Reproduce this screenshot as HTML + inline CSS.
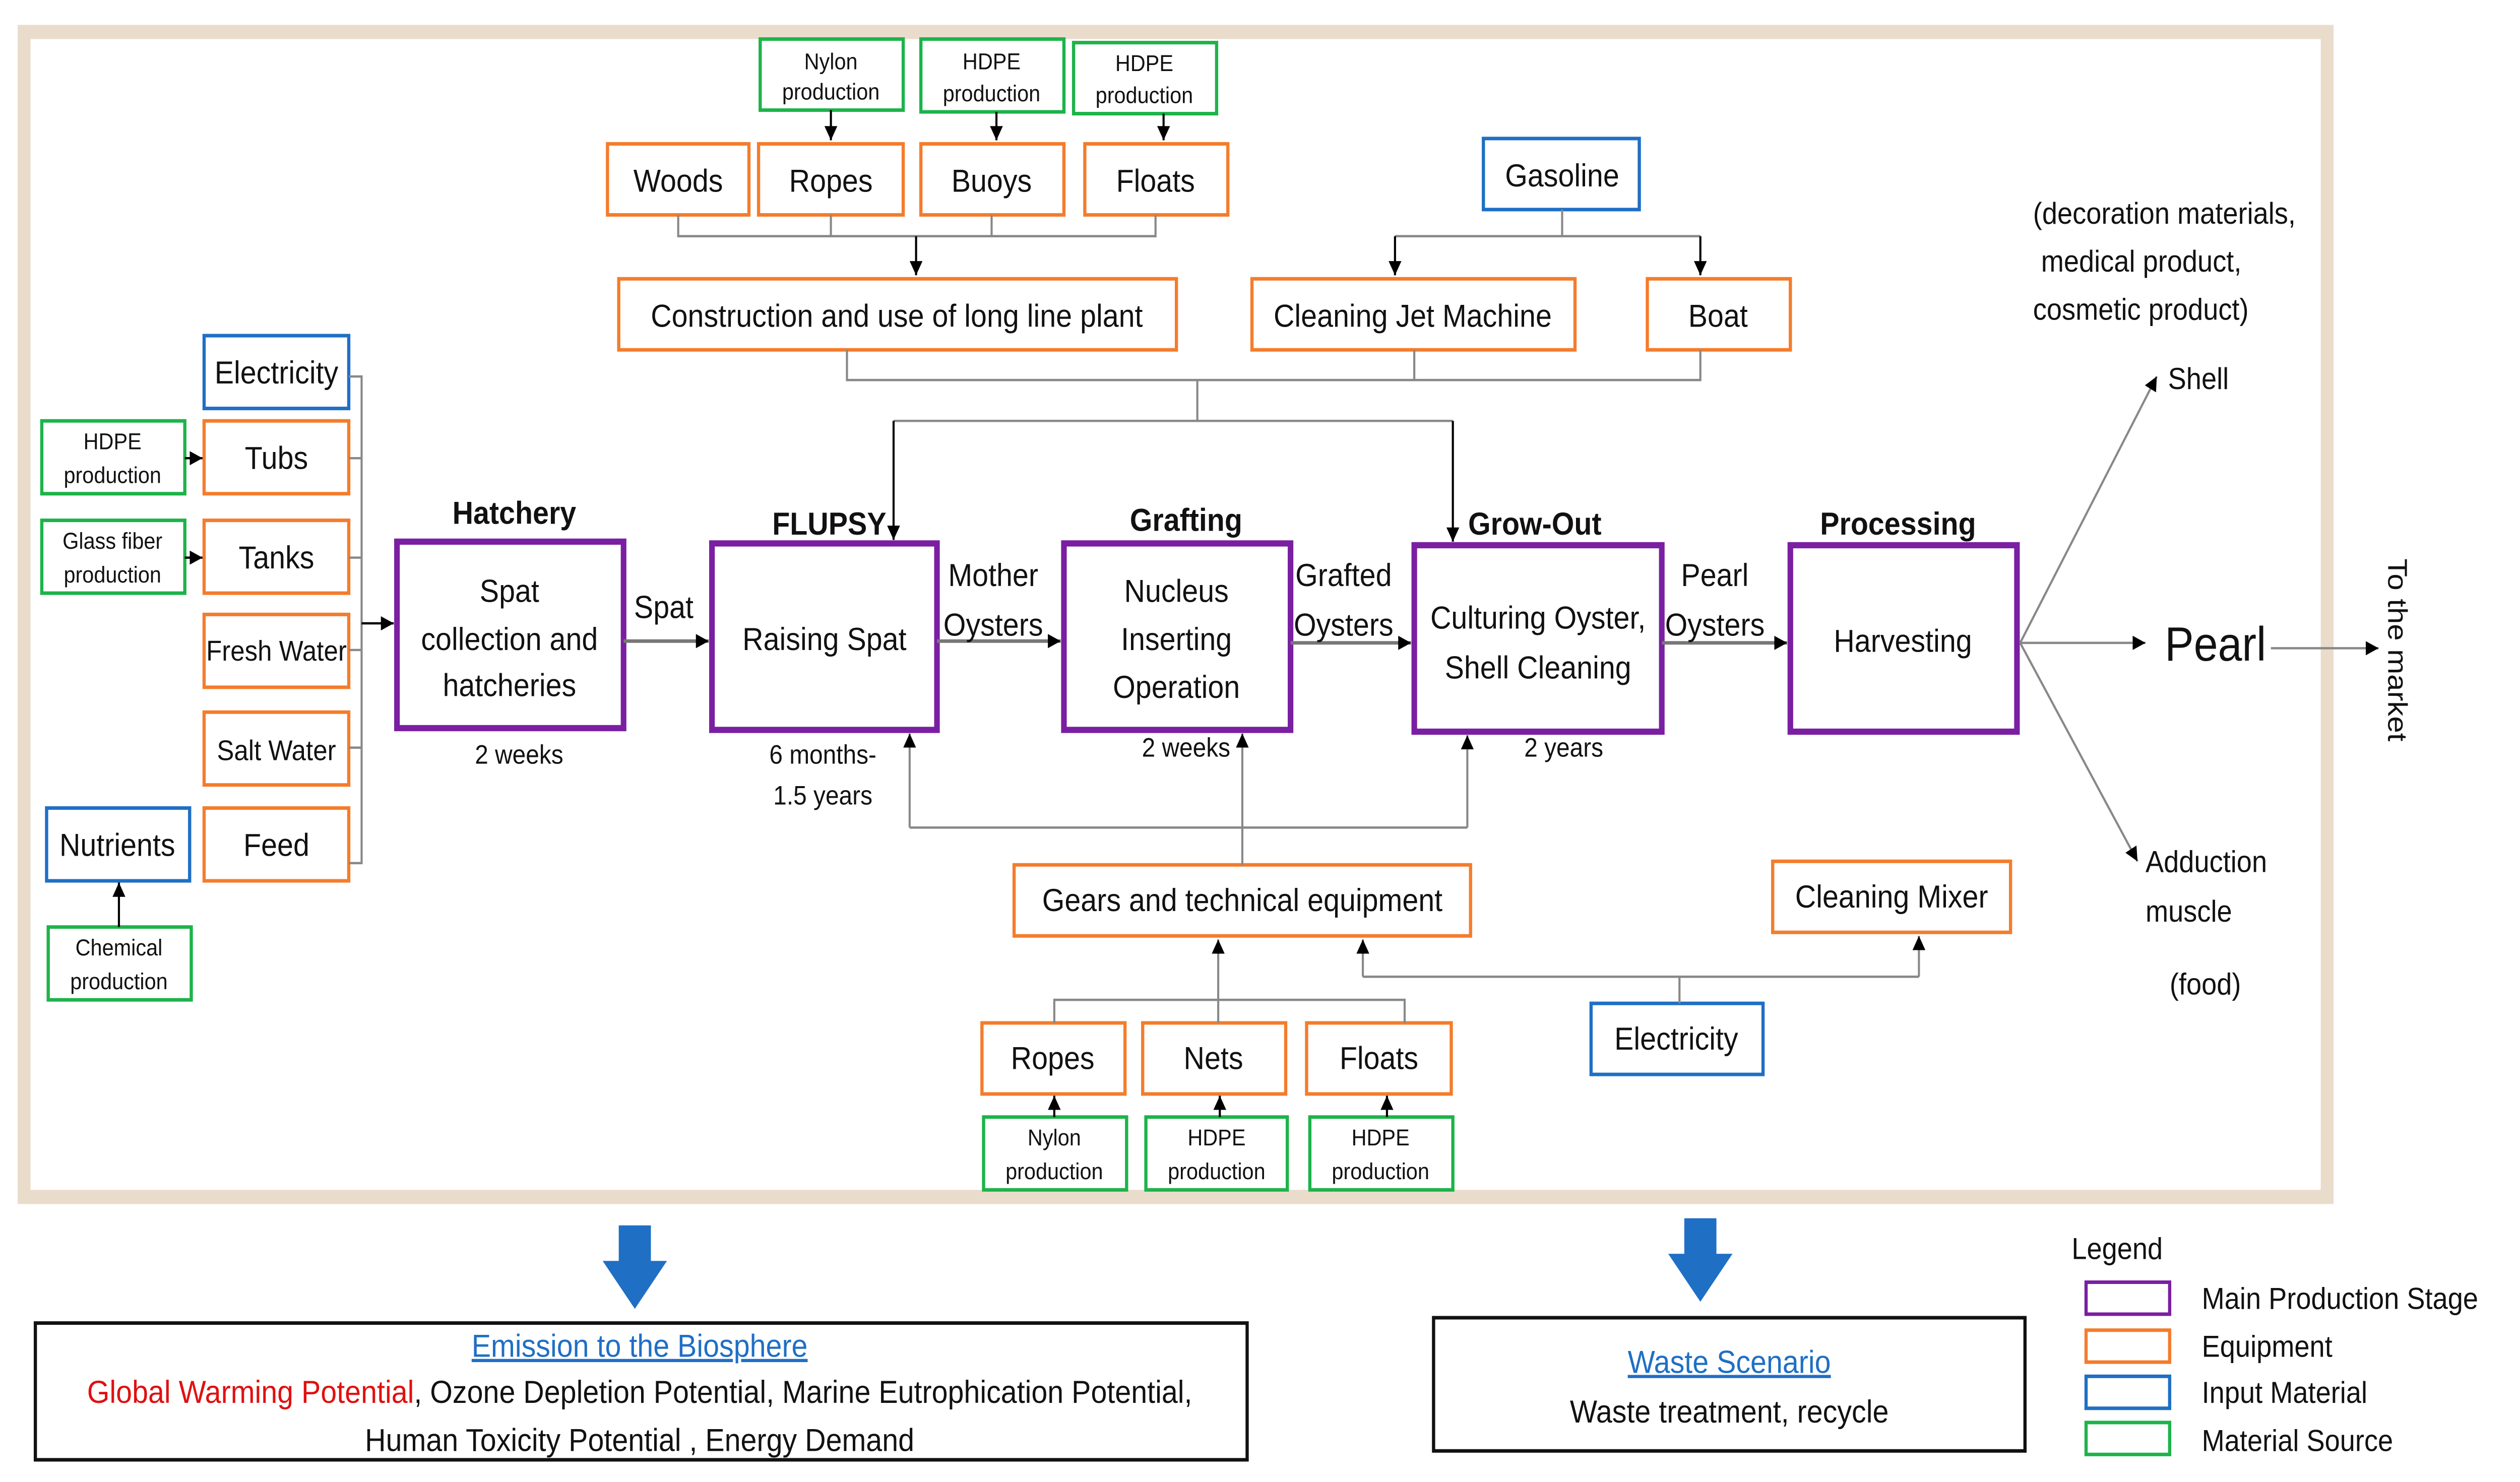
<!DOCTYPE html>
<html><head><meta charset="utf-8"><style>
html,body{margin:0;padding:0;background:#fff;overflow:hidden;width:100vw;height:100vh;}
svg{display:block;width:100vw;height:100vh;}
text{font-family:"Liberation Sans",sans-serif;fill:#111;}
</style></head><body>
<svg viewBox="0 0 1568 834.5" preserveAspectRatio="none" xmlns="http://www.w3.org/2000/svg">
<defs>
<marker id="a" viewBox="0 0 10 10" refX="10" refY="5" markerWidth="8" markerHeight="8" markerUnits="userSpaceOnUse" orient="auto"><path d="M0,0L10,5L0,10z" fill="#000"/></marker>
</defs>
<rect x="15" y="18" width="1433" height="656" fill="#fff" stroke="#eadccb" stroke-width="8"/>

<g fill="#fff" stroke-width="2">
<g stroke="#1db34a">
<rect x="473" y="22" width="89" height="40"/><rect x="573" y="22" width="89" height="41"/><rect x="668" y="24" width="89" height="40"/>
<rect x="26" y="237" width="89" height="41"/><rect x="26" y="293" width="89" height="41"/><rect x="30" y="522" width="89" height="41"/>
<rect x="612" y="629" width="89" height="41"/><rect x="713" y="629" width="88" height="41"/><rect x="815" y="629" width="89" height="41"/>
<rect x="1298" y="801" width="52" height="18"/>
</g>
<g stroke="#f47c2c">
<rect x="378" y="81" width="88" height="40"/><rect x="472" y="81" width="90" height="40"/><rect x="573" y="81" width="89" height="40"/><rect x="675" y="81" width="89" height="40"/>
<rect x="385" y="157" width="347" height="40"/><rect x="779" y="157" width="201" height="40"/><rect x="1025" y="157" width="89" height="40"/>
<rect x="127" y="237" width="90" height="41"/><rect x="127" y="293" width="90" height="41"/><rect x="127" y="346" width="90" height="41"/><rect x="127" y="401" width="90" height="41"/><rect x="127" y="455" width="90" height="41"/>
<rect x="631" y="487" width="284" height="40"/><rect x="1103" y="485" width="148" height="40"/>
<rect x="611" y="576" width="89" height="40"/><rect x="711" y="576" width="89" height="40"/><rect x="813" y="576" width="90" height="40"/>
<rect x="1298" y="749" width="52" height="18"/>
</g>
<g stroke="#1f6fc5">
<rect x="923" y="78" width="97" height="40"/><rect x="127" y="189" width="90" height="41"/><rect x="29" y="455" width="89" height="41"/><rect x="990" y="565" width="107" height="40"/>
<rect x="1298" y="775" width="52" height="18"/>
</g>
<g stroke="#7a1fa2" stroke-width="3.5">
<rect x="247" y="305" width="141" height="105"/><rect x="443" y="306" width="140" height="105"/><rect x="662" y="306" width="141" height="105"/><rect x="880" y="307" width="154" height="105"/><rect x="1114" y="307" width="141" height="105"/>
</g>
<rect x="1298" y="722" width="52" height="18" stroke="#7a1fa2"/>
<rect x="22" y="745" width="754" height="77" stroke="#111"/>
<rect x="892" y="742" width="368" height="75" stroke="#111"/>
</g>

<g stroke="#888" stroke-width="1.3" fill="none">
<path d="M422,121V133H719V121M517,121V133M617,121V133"/>
<path d="M570,133V155" stroke="#000" marker-end="url(#a)"/>
<path d="M972,118V133M868,133H1058"/>
<path d="M868,133V155" stroke="#000" marker-end="url(#a)"/>
<path d="M1058,133V155" stroke="#000" marker-end="url(#a)"/>
<path d="M527,197V214H1058V197M880,197V214M745,214V237H556M745,237H904"/>
<path d="M556,237V304" stroke="#000" marker-end="url(#a)"/>
<path d="M904,237V305" stroke="#000" marker-end="url(#a)"/>
<path d="M517,62V79" stroke="#000" marker-end="url(#a)"/>
<path d="M620,63V79" stroke="#000" marker-end="url(#a)"/>
<path d="M724,64V79" stroke="#000" marker-end="url(#a)"/>
<path d="M217,212H225V486H217M217,258H225M217,314H225M217,366H225M217,421H225"/>
<path d="M225,351H245" stroke="#000" marker-end="url(#a)"/>
<path d="M115,258H126" stroke="#000" marker-end="url(#a)"/>
<path d="M115,314H126" stroke="#000" marker-end="url(#a)"/>
<path d="M74,522V497" stroke="#000" marker-end="url(#a)"/>
<g stroke="#777" stroke-width="2">
<path d="M388,361H441" marker-end="url(#a)"/>
<path d="M583,361H660" marker-end="url(#a)"/>
<path d="M803,362H878" marker-end="url(#a)"/>
<path d="M1034,362H1112" marker-end="url(#a)"/>
</g>
<path d="M773,487V413" marker-end="url(#a)"/>
<path d="M566,466H913"/>
<path d="M566,466V413" marker-end="url(#a)"/>
<path d="M913,466V414" marker-end="url(#a)"/>
<path d="M1045,565V550H848M1045,550H1194"/>
<path d="M848,550V529" marker-end="url(#a)"/>
<path d="M1194,550V527" marker-end="url(#a)"/>
<path d="M656,576V563H874V576M758,576V563"/>
<path d="M758,563V529" marker-end="url(#a)"/>
<path d="M656,629V617" stroke="#000" marker-end="url(#a)"/>
<path d="M759,629V617" stroke="#000" marker-end="url(#a)"/>
<path d="M863,629V617" stroke="#000" marker-end="url(#a)"/>
<path d="M1257,362L1342,212" marker-end="url(#a)"/>
<path d="M1257,362H1335" marker-end="url(#a)"/>
<path d="M1257,362L1330,485" marker-end="url(#a)"/>
<path d="M1413,365H1480" marker-end="url(#a)"/>
</g>

<path d="M385,690h20v20h10l-20,27l-20,-27h10z" fill="#1f6fc5"/>
<path d="M1048,686h20v20h10l-20,27l-20,-27h10z" fill="#1f6fc5"/>

<g text-anchor="middle" font-size="13">
<text x="517" y="39">Nylon</text><text x="517" y="56">production</text>
<text x="617" y="39">HDPE</text><text x="617" y="57">production</text>
<text x="712" y="40">HDPE</text><text x="712" y="58">production</text>
<text x="70" y="253">HDPE</text><text x="70" y="272">production</text>
<text x="70" y="309">Glass fiber</text><text x="70" y="328">production</text>
<text x="74" y="538">Chemical</text><text x="74" y="557">production</text>
<text x="656" y="645">Nylon</text><text x="656" y="664">production</text>
<text x="757" y="645">HDPE</text><text x="757" y="664">production</text>
<text x="859" y="645">HDPE</text><text x="859" y="664">production</text>
</g>
<g text-anchor="middle" font-size="18">
<text x="422" y="108">Woods</text><text x="517" y="108">Ropes</text><text x="617" y="108">Buoys</text><text x="719" y="108">Floats</text>
<text x="972" y="105">Gasoline</text>
<text x="558" y="184">Construction and use of long line plant</text>
<text x="879" y="184">Cleaning Jet Machine</text><text x="1069" y="184">Boat</text>
<text x="172" y="216">Electricity</text><text x="172" y="264">Tubs</text><text x="172" y="320">Tanks</text>
<text x="172" y="372" font-size="16">Fresh Water</text><text x="172" y="428" font-size="16">Salt Water</text><text x="172" y="482">Feed</text>
<text x="73" y="482">Nutrients</text>
<text x="773" y="513">Gears and technical equipment</text><text x="1177" y="511">Cleaning Mixer</text>
<text x="1043" y="591">Electricity</text>
<text x="655" y="602">Ropes</text><text x="755" y="602">Nets</text><text x="858" y="602">Floats</text>
<text x="317" y="339">Spat</text><text x="317" y="366">collection and</text><text x="317" y="392">hatcheries</text>
<text x="513" y="366">Raising Spat</text>
<text x="732" y="339">Nucleus</text><text x="732" y="366">Inserting</text><text x="732" y="393">Operation</text>
<text x="957" y="354">Culturing Oyster,</text><text x="957" y="382">Shell Cleaning</text>
<text x="1184" y="367">Harvesting</text>
<text x="413" y="348">Spat</text>
<text x="618" y="330">Mother</text><text x="618" y="358">Oysters</text>
<text x="836" y="330">Grafted</text><text x="836" y="358">Oysters</text>
<text x="1067" y="330">Pearl</text><text x="1067" y="358">Oysters</text>
</g>
<g text-anchor="middle" font-size="18" font-weight="bold">
<text x="320" y="295">Hatchery</text><text x="516" y="301">FLUPSY</text><text x="738" y="299">Grafting</text><text x="955" y="301">Grow-Out</text><text x="1181" y="301">Processing</text>
</g>
<g text-anchor="middle" font-size="15">
<text x="323" y="430">2 weeks</text><text x="512" y="430">6 months-</text><text x="512" y="453">1.5 years</text>
<text x="738" y="426">2 weeks</text><text x="973" y="426">2 years</text>
</g>
<g font-size="17">
<text x="1265" y="126">(decoration materials,</text>
<text x="1270" y="153">medical product,</text>
<text x="1265" y="180">cosmetic product)</text>
<text x="1349" y="219">Shell</text>
<text x="1335" y="491">Adduction</text><text x="1335" y="519">muscle</text><text x="1350" y="560">(food)</text>
</g>
<text x="1347" y="372" font-size="27">Pearl</text>
<text transform="translate(1486,366) rotate(90)" text-anchor="middle" font-size="17">To the market</text>

<text x="398" y="764" text-anchor="middle" font-size="18" style="fill:#1f6fc5" text-decoration="underline">Emission to the Biosphere</text>
<text x="398" y="790" text-anchor="middle" font-size="18"><tspan style="fill:#e01010">Global Warming Potential</tspan>, Ozone Depletion Potential, Marine Eutrophication Potential,</text>
<text x="398" y="817" text-anchor="middle" font-size="18">Human Toxicity Potential , Energy Demand</text>
<text x="1076" y="773" text-anchor="middle" font-size="18" style="fill:#1f6fc5" text-decoration="underline">Waste Scenario</text>
<text x="1076" y="801" text-anchor="middle" font-size="18">Waste treatment, recycle</text>

<g font-size="17">
<text x="1289" y="709">Legend</text>
<text x="1370" y="737">Main Production Stage</text>
<text x="1370" y="764">Equipment</text>
<text x="1370" y="790">Input Material</text>
<text x="1370" y="817">Material Source</text>
</g>
</svg>
</body></html>
